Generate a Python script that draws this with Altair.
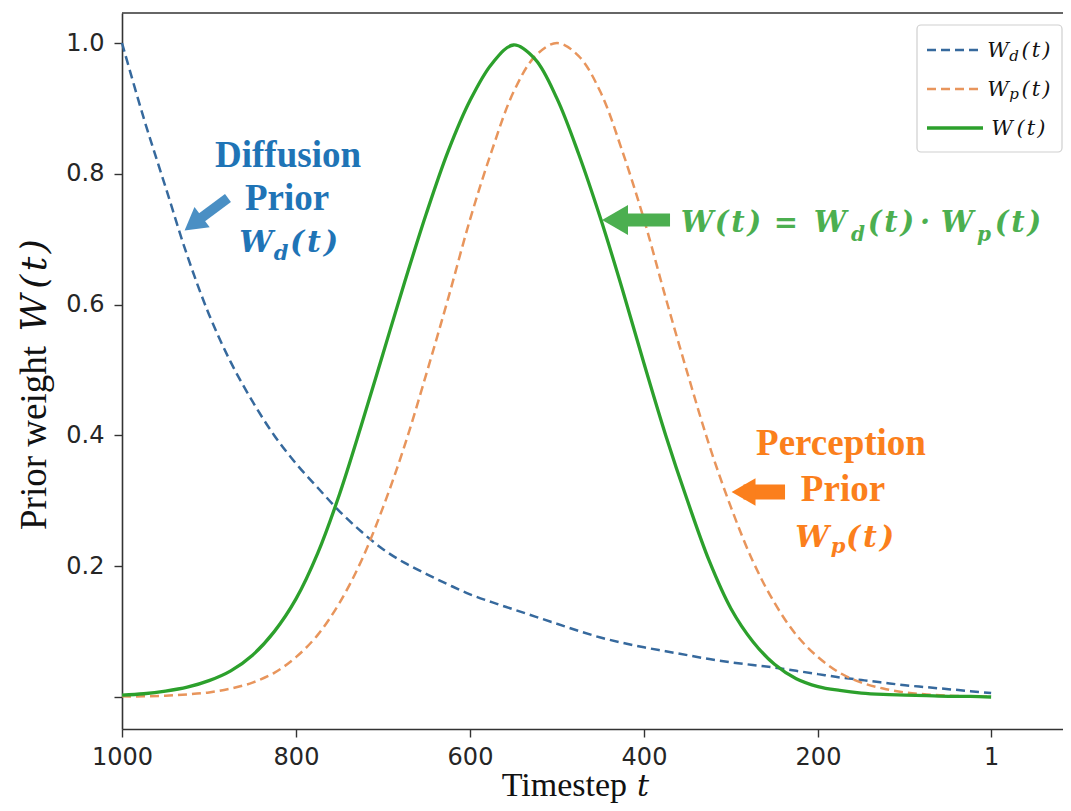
import altair as alt
import pandas as pd

# ---------------- data ----------------
t_vals = [1000, 975, 950, 925, 900, 875, 850, 825, 800, 775, 750, 725, 700, 675,
          650, 625, 600, 575, 550, 525, 500, 475, 450, 425, 400, 375, 350, 325,
          300, 275, 250, 225, 200, 175, 150, 125, 100, 75, 50, 25, 1]
w_d = [1.000, 0.885, 0.780, 0.675, 0.585, 0.512, 0.452, 0.400, 0.357, 0.320,
       0.284, 0.253, 0.226, 0.205, 0.188, 0.172, 0.157, 0.145, 0.134, 0.123,
       0.112, 0.101, 0.091, 0.083, 0.076, 0.070, 0.064, 0.058, 0.053, 0.049,
       0.045, 0.040, 0.035, 0.030, 0.026, 0.022, 0.018, 0.015, 0.012, 0.009, 0.006]
w_p = [0.001, 0.001, 0.002, 0.004, 0.007, 0.013, 0.022, 0.037, 0.061, 0.095,
       0.144, 0.208, 0.290, 0.385, 0.495, 0.610, 0.730, 0.835, 0.925, 0.980,
       1.000, 0.980, 0.925, 0.835, 0.730, 0.610, 0.495, 0.385, 0.290, 0.208,
       0.144, 0.095, 0.061, 0.037, 0.022, 0.013, 0.007, 0.004, 0.002, 0.001, 0.001]
w_all = [0.003, 0.005, 0.009, 0.015, 0.025, 0.040, 0.064, 0.100, 0.150, 0.220,
         0.310, 0.415, 0.525, 0.635, 0.740, 0.835, 0.912, 0.968, 0.997, 0.975,
         0.915, 0.830, 0.732, 0.624, 0.510, 0.400, 0.300, 0.208, 0.135, 0.085,
         0.050, 0.028, 0.016, 0.010, 0.006, 0.004, 0.003, 0.002, 0.001, 0.001, 0.000]

x_ticks = [1000, 800, 600, 400, 200, 1]
y_ticks = [0, 0.2, 0.4, 0.6, 0.8, 1.0]

df = pd.DataFrame({"t": t_vals, "wd": w_d, "wp": w_p, "w": w_all})

# ---------------- layout / styles ----------------
W, H = 941, 716
xs = alt.Scale(domain=[-81.6, 1000], reverse=True, nice=False, zero=False)
ys = alt.Scale(domain=[-0.0489, 1.0459], nice=False, zero=False)

C_BLUE_LINE = "#36699d"
C_ORANGE_LINE = "#e8955c"
C_GREEN_LINE = "#2ca02c"
C_BLUE_TXT = "#1f74b6"
C_BLUE_ARROW = "#4a8fc4"
C_ORANGE_TXT = "#fb7f1c"
C_GREEN_TXT = "#4caf50"

SERIF = "Liberation Serif"
MATH = "DejaVu Serif"
HS = "\u200a"  # hair space, widens parentheses like a math font
PT = "(" + HS + "t" + HS + ")"

one = pd.DataFrame({"a": [0]})

x_axis = alt.Axis(values=x_ticks, title=None, format="d", labelFont="DejaVu Sans",
                  labelFontSize=24, labelColor="#262626", labelPadding=8,
                  tickSize=8, tickColor="#333333", tickWidth=1.4,
                  domainColor="#333333", domainWidth=1.6, grid=False,
                  labelFlush=False, labelOverlap=False)
y_axis = alt.Axis(values=y_ticks, title=None,
                  labelExpr="datum.value == 0 ? '' : format(datum.value, '.1f')",
                  labelFont="DejaVu Sans", labelFontSize=24, labelColor="#262626",
                  labelPadding=10, tickSize=8, tickColor="#333333", tickWidth=1.4,
                  domainColor="#333333", domainWidth=1.6, grid=False)


def X(field):
    return alt.X(field, scale=xs, axis=x_axis)


def Y(field):
    return alt.Y(field, scale=ys, axis=y_axis)


base = alt.Chart(df)
line_d = base.mark_line(color=C_BLUE_LINE, strokeDash=[9, 5], strokeWidth=2.5,
                        interpolate="catmull-rom").encode(x=X("t:Q"), y=Y("wd:Q"))
line_p = base.mark_line(color=C_ORANGE_LINE, strokeDash=[9, 5], strokeWidth=2.5,
                        interpolate="catmull-rom").encode(x=X("t:Q"), y=Y("wp:Q"))
line_w = base.mark_line(color=C_GREEN_LINE, strokeWidth=3.3,
                        interpolate="catmull-rom").encode(x=X("t:Q"), y=Y("w:Q"))

top_frame = alt.Chart(one).mark_rule(color="#333333", strokeWidth=1.6).encode(
    x=alt.value(0), x2=alt.value(W), y=alt.value(0))


def dtext(text, t, v, size, color, font, style="normal", weight="normal",
          align="center", baseline="alphabetic"):
    return alt.Chart(pd.DataFrame({"t": [t], "v": [v]})).mark_text(
        text=text, font=font, fontSize=size, fontStyle=style, fontWeight=weight,
        color=color, align=align, baseline=baseline).encode(x=X("t:Q"), y=Y("v:Q"))


def ptext(text, x, y, size, color, font, style="normal", weight="normal",
          align="center", baseline="alphabetic", angle=0):
    return alt.Chart(one).mark_text(
        text=text, font=font, fontSize=size, fontStyle=style, fontWeight=weight,
        color=color, align=align, baseline=baseline, angle=angle).encode(
        x=alt.value(x), y=alt.value(y))


def arrow(t_head, v_head, t_tail, v_tail, color, shaft, head_size, angle):
    d = pd.DataFrame({"t1": [t_head], "v1": [v_head], "t2": [t_tail], "v2": [v_tail]})
    s = alt.Chart(d).mark_rule(color=color, strokeWidth=shaft, strokeCap="butt").encode(
        x=X("t1:Q"), x2="t2:Q", y=Y("v1:Q"), y2="v2:Q")
    h = alt.Chart(d).mark_point(shape="triangle-left", filled=True, size=head_size,
                                angle=angle, color=color, opacity=1, strokeWidth=0).encode(
        x=X("t1:Q"), y=Y("v1:Q"))
    return [s, h]


layers = [line_d, line_p, line_w, top_frame]

# annotation: Diffusion prior
layers += arrow(918.0, 0.7236, 878.2, 0.7630, C_BLUE_ARROW, 10, 640, 323)
layers += [
    dtext("Diffusion", 809.2, 0.8104, 37, C_BLUE_TXT, SERIF, weight="bold"),
    dtext("Prior", 810.3, 0.7446, 37, C_BLUE_TXT, SERIF, weight="bold"),
    dtext("W", 846.0, 0.6804, 30, C_BLUE_TXT, MATH, style="italic", weight="bold"),
    dtext("d", 817.2, 0.6682, 21, C_BLUE_TXT, MATH, style="italic", weight="bold"),
    dtext(PT, 779.3, 0.6804, 30, C_BLUE_TXT, MATH, style="italic", weight="bold"),
]

# annotation: product
layers += arrow(433.3, 0.7294, 370.1, 0.7294, C_GREEN_TXT, 13, 900, 0)
gm, gs = 0.7110, 0.6972
for txt, tt, vv, sz in [("W", 339.1, gm, 29), (PT, 292.0, gm, 29), ("=", 236.8, gm, 29),
                        ("W", 186.2, gm, 29), ("d", 154.0, gs, 20), (PT, 116.1, gm, 29),
                        ("·", 77.0, gm, 29), ("W", 40.2, gm, 29), ("p", 9.2, gs, 20),
                        (PT, -29.9, gm, 29)]:
    layers.append(dtext(txt, tt, vv, sz, C_GREEN_TXT, MATH, style="italic", weight="bold"))

# annotation: Perception prior
layers += arrow(285.6, 0.3135, 237.9, 0.3135, C_ORANGE_TXT, 15, 760, 0)
layers += [
    dtext("Perception", 173.6, 0.3700, 37, C_ORANGE_TXT, SERIF, weight="bold"),
    dtext("Prior", 171.3, 0.2997, 37, C_ORANGE_TXT, SERIF, weight="bold"),
    dtext("W", 206.9, 0.2294, 30, C_ORANGE_TXT, MATH, style="italic", weight="bold"),
    dtext("p", 177.0, 0.2202, 21, C_ORANGE_TXT, MATH, style="italic", weight="bold"),
    dtext(PT, 140.2, 0.2294, 30, C_ORANGE_TXT, MATH, style="italic", weight="bold"),
]

# legend (drawn in the plot's top-right corner)
layers.append(alt.Chart(one).mark_rect(fill="white", stroke="#cfcfcf", strokeWidth=1.2,
                                       cornerRadius=4).encode(
    x=alt.value(795), x2=alt.value(940), y=alt.value(12), y2=alt.value(139)))
for yy, col, dash, sw in [(37, C_BLUE_LINE, [9, 5], 2.5), (76, C_ORANGE_LINE, [9, 5], 2.5),
                          (115, C_GREEN_LINE, [1, 0], 3.3)]:
    layers.append(alt.Chart(one).mark_rule(color=col, strokeDash=dash, strokeWidth=sw).encode(
        x=alt.value(805), x2=alt.value(861), y=alt.value(yy)))
LEG = "#111111"
layers += [
    ptext("W", 876, 44, 21, LEG, MATH, style="italic"),
    ptext("d", 892, 48, 15, LEG, MATH, style="italic"),
    ptext(PT, 914, 44, 21, LEG, MATH, style="italic"),
    ptext("W", 876, 83, 21, LEG, MATH, style="italic"),
    ptext("p", 892, 86, 15, LEG, MATH, style="italic"),
    ptext(PT, 914, 83, 21, LEG, MATH, style="italic"),
    ptext("W", 880, 122, 21, LEG, MATH, style="italic"),
    ptext(PT, 909, 122, 21, LEG, MATH, style="italic"),
]

# axis titles
layers += [
    ptext("Prior weight", -76, 517, 37, "#111111", SERIF, align="left", angle=270),
    ptext("W", -76, 300, 36, "#111111", MATH, style="italic", align="center", angle=270),
    ptext(PT, -76, 251, 36, "#111111", MATH, style="italic", align="center", angle=270),
    ptext("Timestep", 505, 783, 34, "#111111", SERIF, align="right"),
    ptext("t", 515, 783, 30, "#111111", MATH, style="italic", align="left"),
]

chart = alt.layer(*layers).properties(
    width=W, height=H,
    padding={"left": 114, "top": 5, "right": 0, "bottom": 74},
    autosize=alt.AutoSizeParams(type="none"),
).configure_view(strokeWidth=0)

chart.save("out.html", embed_options={"renderer": "svg", "actions": False})
